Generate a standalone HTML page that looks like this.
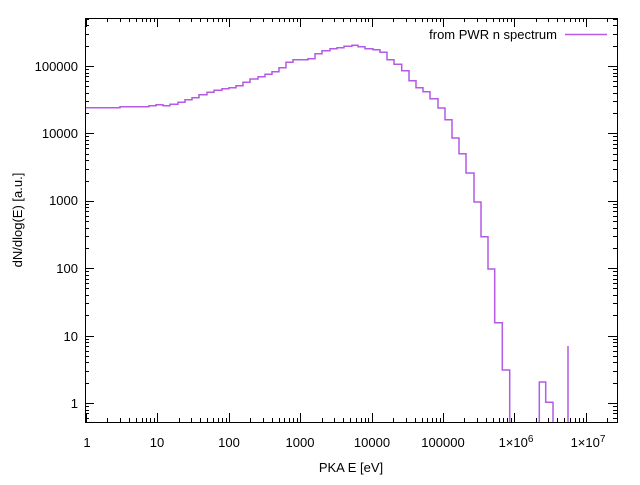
<!DOCTYPE html>
<html><head><meta charset="utf-8"><style>
html,body{margin:0;padding:0;background:#fff;}
svg text{font-family:"Liberation Sans",sans-serif;font-size:13px;fill:#000;}
</style></head><body>
<svg id="s" width="640" height="480" xmlns="http://www.w3.org/2000/svg">
<rect width="640" height="480" fill="#fff"/>
<g id="ticks" stroke="#000" stroke-width="1"></g>
<rect x="85.5" y="18.5" width="532" height="404" fill="none" stroke="#000" stroke-width="1"/>
<g text-anchor="end">
<text x="78" y="408">1</text>
<text x="78" y="341">10</text>
<text x="78" y="273">100</text>
<text x="78" y="205">1000</text>
<text x="78" y="138">10000</text>
<text x="78" y="71">100000</text>
</g>
<g text-anchor="middle">
<text x="87" y="447">1</text>
<text x="157" y="447">10</text>
<text x="229" y="447">100</text>
<text x="300" y="447">1000</text>
<text x="372" y="447">10000</text>
<text x="443" y="447">100000</text>
<text x="516" y="447">1×10<tspan dy="-5" font-size="10">6</tspan></text>
<text x="588" y="447">1×10<tspan dy="-5" font-size="10">7</tspan></text>
<text x="351" y="472">PKA E [eV]</text>
<text transform="translate(22,220) rotate(-90)">dN/dlog(E) [a.u.]</text>
</g>
<text x="557" y="39" text-anchor="end">from PWR n spectrum</text>
<line x1="565" y1="34.5" x2="607" y2="34.5" stroke="#b45ae6" stroke-width="1.5"/>
<g fill="none" stroke="#b45ae6" stroke-width="1.5">
<polyline points="86,107.7 120,107.7 120,106.7 149,106.7 149,105.7 156,105.7 156,104.7 163,104.7 163,105.7 170,105.7 170,104.3 178,104.3 178,102.3 185,102.3 185,99.7 192,99.7 192,97.7 199,97.7 199,94.7 207,94.7 207,92.3 214,92.3 214,90.3 222,90.3 222,88.7 229,88.7 229,87.7 236,87.7 236,85.7 243,85.7 243,82.3 250,82.3 250,79 258,79 258,76.7 265,76.7 265,74.3 272,74.3 272,71.7 279,71.7 279,67.7 286,67.7 286,62.3 293,62.3 293,59.7 308,59.7 308,58.7 315,58.7 315,53.7 322,53.7 322,50.7 330,50.7 330,48.7 337,48.7 337,47.7 344,47.7 344,46.3 352,46.3 352,45.3 358,45.3 358,46.7 365,46.7 365,48.7 373,48.7 373,49.7 380,49.7 380,52.3 387,52.3 387,59.7 394,59.7 394,64.3 401.7,64.3 401.7,70.7 409,70.7 409,80.7 416,80.7 416,87.7 423,87.7 423,91.7 430,91.7 430,98.7 438,98.7 438,108 445,108 445,119.7 452,119.7 452,138 459,138 459,153.7 466,153.7 466,173 474,173 474,202 481,202 481,236.7 488,236.7 488,269 494.7,269 494.7,322.7 502.3,322.7 502.3,370 509.7,370 509.7,422"/>
<polyline points="539.3,422 539.3,382 545.7,382 545.7,402.3 553,402.3 553,422"/>
<polyline points="568,422 568,346"/>
</g>
</svg>
<script>
(function(){
var g=document.getElementById('ticks'),o='';
function L(a,b,c,d){o+='<line x1="'+a+'" y1="'+b+'" x2="'+c+'" y2="'+d+'"/>';}
var dx=71.4,dy=67.4;
for(var k=0;k<8;k++){for(var m=1;m<10;m++){var x=86+dx*(k+Math.log10(m));if(x>617)break;var len=m==1?9:4;x=Math.round(x)+0.5;L(x,422,x,422-len);L(x,18,x,18+len);}}
for(var k=-1;k<6;k++){for(var m=1;m<10;m++){var y=403-dy*(k+Math.log10(m));if(y>422||y<18)continue;var len=m==1?9:4;y=Math.round(y)+0.5;L(85,y,85+len,y);L(617,y,617-len,y);}}
g.innerHTML=o;
})();
</script>
</body></html>
